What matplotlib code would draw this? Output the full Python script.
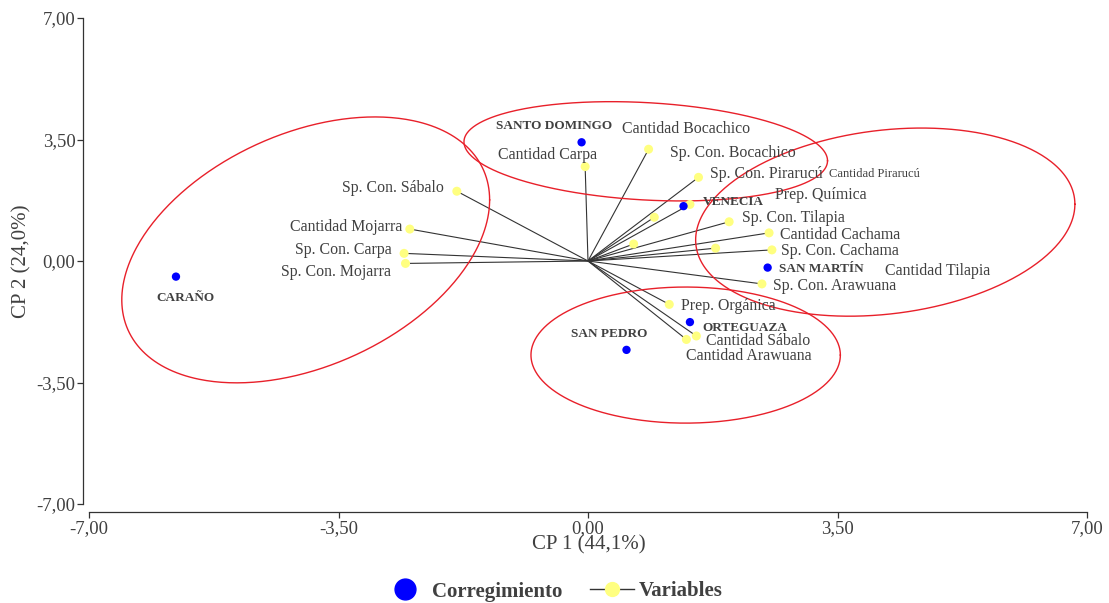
import numpy as np
import matplotlib
matplotlib.use('Agg')
import matplotlib.pyplot as plt
from matplotlib.lines import Line2D
from matplotlib.ticker import FixedLocator, FuncFormatter

# ---------------- data ----------------
var_names = ["Cantidad Carpa", "Sp. Con. Bocachico", "Cantidad Bocachico",
             "Sp. Con. Pirarucú", "Cantidad Pirarucú", "Prep. Química",
             "Sp. Con. Tilapia", "Cantidad Cachama", "Sp. Con. Cachama",
             "Cantidad Tilapia", "Sp. Con. Arawuana", "Prep. Orgánica",
             "Cantidad Sábalo", "Cantidad Arawuana", "Sp. Con. Sábalo",
             "Cantidad Mojarra", "Sp. Con. Carpa", "Sp. Con. Mojarra"]
var_x = [-0.04, 0.85, 0.93, 1.55, 1.43, 0.64, 1.98, 2.54, 2.58, 1.79, 2.44,
         1.14, 1.52, 1.38, -1.84, -2.50, -2.58, -2.56]
var_y = [2.72, 3.22, 1.26, 2.41, 1.63, 0.49, 1.13, 0.81, 0.32, 0.37, -0.66,
         -1.25, -2.16, -2.26, 2.01, 0.92, 0.22, -0.07]

site_names = ["SANTO DOMINGO", "VENECIA", "SAN MARTÍN", "CARAÑO",
              "SAN PEDRO", "ORTEGUAZA"]
site_x = [-0.09, 1.34, 2.52, -5.78, 0.54, 1.43]
site_y = [3.42, 1.58, -0.19, -0.45, -2.56, -1.76]

# group ellipses (centre, spread in x, spread in y, correlation)
ell_cx = [-3.96, 0.81, 4.17, 1.37]
ell_cy = [0.32, 3.16, 1.12, -2.71]
ell_sx = [2.58, 2.55, 2.66, 2.17]
ell_sy = [3.83, 1.43, 2.71, 1.96]
ell_rho = [0.376, -0.19, 0.19, 0.0]

ticks = [-7.0, -3.5, 0.0, 3.5, 7.0]
xlabel = "CP 1 (44,1%)"
ylabel = "CP 2 (24,0%)"

# ---------------- label placement (pixels) ----------------
var_dx = [-37.7, 21, -32.6, 11.7, 139, 141.7, 12.7, 10.7, 9.4, 169.3, 11,
          12, 9.4, 0, -13, -7.3, -12.6, -15]
var_dy = [13.4, -1.4, 90.6, 5.6, 32, 50.7, 5.7, 0.3, 1, -20.7, -0.3,
          0.3, -2.8, -14.2, 5.6, 4, 5, -6.7]
var_ha = ["center", "left", "left", "left", "left", "left", "left", "left",
          "left", "left", "left", "left", "left", "left", "right", "right",
          "right", "right"]
var_fs = [11.4] * len(var_names)
var_fs[4] = 9.0

site_dx = [-27.7, 19.4, 11.6, 9, -17.7, 12]
site_dy = [18, 5.3, 0, -20, 17.3, -4.7]
site_ha = ["center", "left", "left", "center", "center", "left"]

# ---------------- style ----------------
FONT = "Liberation Serif"
TXT = "#404040"
BLUE = "#0000FF"
YEL = "#FFFF80"
RED = "#E8202A"
plt.rcParams['font.family'] = [FONT, 'DejaVu Serif']

fig = plt.figure(figsize=(11.09, 6.03), dpi=100)
ax = fig.add_axes([89 / 1109, 99 / 603, 998 / 1109, 486 / 603])
ax.set_xlim(-7, 7)
ax.set_ylim(-7, 7)

for s in ['top', 'right']:
    ax.spines[s].set_visible(False)
ax.spines['left'].set_position(('outward', 4.3))
ax.spines['bottom'].set_position(('outward', 5.8))
for s in ['left', 'bottom']:
    ax.spines[s].set_color('#333333')
    ax.spines[s].set_linewidth(0.9)

fmt = FuncFormatter(lambda v, p: f"{v:.2f}".replace('.', ','))
ax.xaxis.set_major_locator(FixedLocator(ticks))
ax.yaxis.set_major_locator(FixedLocator(ticks))
ax.xaxis.set_major_formatter(fmt)
ax.yaxis.set_major_formatter(fmt)
ax.tick_params(axis='both', direction='out', length=4, width=0.9,
               color='#333333', labelsize=13.5, labelcolor=TXT, pad=1.5)

# ellipses
t = np.linspace(0, 2 * np.pi, 400)
for cx, cy, sx, sy, r in zip(ell_cx, ell_cy, ell_sx, ell_sy, ell_rho):
    ex = cx + sx * np.cos(t)
    ey = cy + sy * (r * np.cos(t) + np.sqrt(1 - r * r) * np.sin(t))
    ax.plot(ex, ey, color=RED, lw=1.0, zorder=3)

# variable vectors
for x, y in zip(var_x, var_y):
    ax.plot([0, x], [0, y], color='#333333', lw=0.8, zorder=2,
            solid_capstyle='butt')
ax.scatter(var_x, var_y, s=6.5 ** 2, color=YEL, edgecolors='none', zorder=4)
ax.scatter(site_x, site_y, s=6.0 ** 2, color=BLUE, edgecolors='none', zorder=5)

for n, x, y, dx, dy, ha, fs in zip(var_names, var_x, var_y, var_dx, var_dy,
                                   var_ha, var_fs):
    ax.annotate(n, (x, y), xytext=(dx, dy), textcoords='offset pixels',
                ha=ha, va='center_baseline', fontsize=fs, color=TXT, zorder=6)
for n, x, y, dx, dy, ha in zip(site_names, site_x, site_y, site_dx, site_dy,
                               site_ha):
    ax.annotate(n, (x, y), xytext=(dx, dy), textcoords='offset pixels',
                ha=ha, va='center_baseline', fontsize=9.5, fontweight='bold',
                color=TXT, zorder=6)

fig.text(589 / 1109, 1 - 545 / 603, xlabel, ha='center', va='center',
         fontsize=15, color=TXT)
fig.text(22 / 1109, 1 - 261 / 603, ylabel, ha='center', va='center',
         rotation=90, fontsize=15, color=TXT)

h1 = Line2D([], [], marker='o', color=BLUE, linestyle='none', markersize=15)
h2 = Line2D([], [], color='#333333', lw=1.0, marker='o', markerfacecolor=YEL,
            markeredgecolor=YEL, markersize=10)
leg = fig.legend([h1, h2], ["Corregimiento", "Variables"], loc='center',
                 bbox_to_anchor=(553 / 1109, 1 - 591.5 / 603), ncol=2,
                 frameon=False, handlelength=2.1, handletextpad=0.25,
                 columnspacing=1.3, prop={'family': FONT, 'weight': 'bold',
                                          'size': 15})
for tx in leg.get_texts():
    tx.set_color(TXT)

fig.savefig('out.png', dpi=100)
